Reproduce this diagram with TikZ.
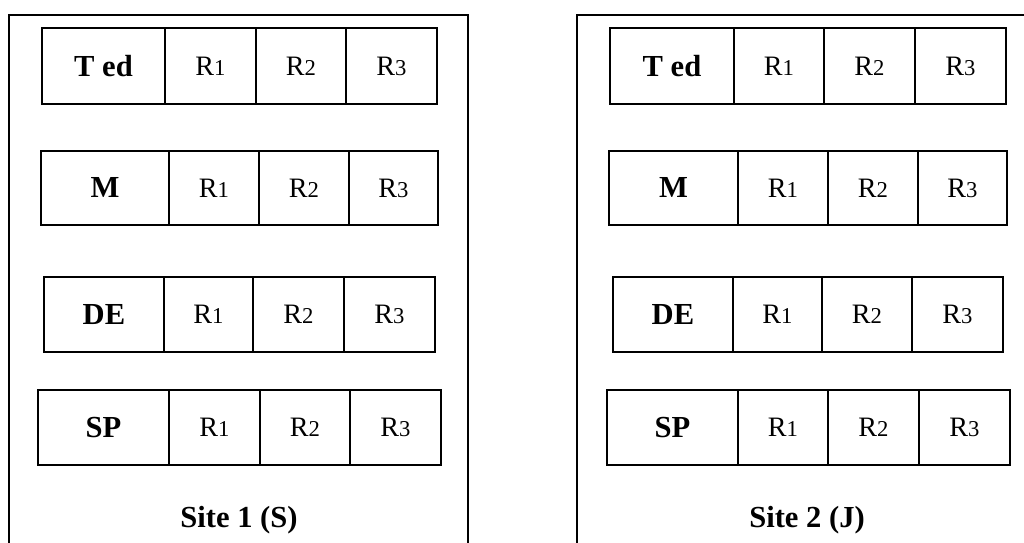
\documentclass[tikz,border=0pt]{standalone}
\usepackage{fontspec}
\setmainfont{Liberation Serif}
\tikzset{
  cellbox/.style={draw, line width=1.1pt, inner sep=0pt, anchor=north west,
    font=\fontsize{16}{16}\selectfont},
  headbox/.style={cellbox, font=\bfseries\fontsize{17.4}{17.4}\selectfont},
  siteframe/.style={line width=1pt},
  sitelabel/.style={font=\bfseries\fontsize{17.4}{17.4}\selectfont, inner sep=0pt, anchor=base}
}
\newcommand{\Rsub}[1]{R{\fontsize{12.9}{12.9}\selectfont #1}}
% prefix, ytop, ybot, x0, x1, x2, x3, x4, label
\newcommand{\cellrow}[9]{%
  \node[headbox, minimum width={(#5-#4)*0.02cm}, minimum height={(#3-#2)*0.02cm}] (#1h) at (#4,#2) {#9};
  \node[cellbox, minimum width={(#6-#5)*0.02cm}, minimum height={(#3-#2)*0.02cm}] (#1a) at (#5,#2) {\Rsub{1}};
  \node[cellbox, minimum width={(#7-#6)*0.02cm}, minimum height={(#3-#2)*0.02cm}] (#1b) at (#6,#2) {\Rsub{2}};
  \node[cellbox, minimum width={(#8-#7)*0.02cm}, minimum height={(#3-#2)*0.02cm}] (#1c) at (#7,#2) {\Rsub{3}};
}
\begin{document}
\begin{tikzpicture}[x=0.02cm, y=-0.02cm]
  \useasboundingbox (0,0) rectangle (1024,542);
  \clip (0,0) rectangle (1024,542);
  % site frames
  \draw[siteframe] (9,560) -- (9,15) -- (468,15) -- (468,560);
  \draw[siteframe] (577,560) -- (577,15) -- (1040,15);
  % left site
  \cellrow{LT}{27}{103}{41}{164}{255}{345}{436}{T ed}
  \cellrow{LM}{150}{224}{40}{168}{258}{348}{437}{M}
  \cellrow{LD}{276}{351}{43}{163}{252}{343}{434}{DE}
  \cellrow{LS}{389}{464}{37}{168}{259}{349}{440}{SP}
  \node[sitelabel] (site1) at (239,527) {Site 1 (S)};
  % right site
  \cellrow{RT}{27}{103}{609}{733}{823}{914}{1005}{T ed}
  \cellrow{RM}{150}{224}{608}{737}{827}{917}{1006}{M}
  \cellrow{RD}{276}{351}{612}{732}{821}{911}{1002}{DE}
  \cellrow{RS}{389}{464}{606}{737}{827}{918}{1009}{SP}
  \node[sitelabel] (site2) at (807,527) {Site 2 (J)};
\end{tikzpicture}
\end{document}
